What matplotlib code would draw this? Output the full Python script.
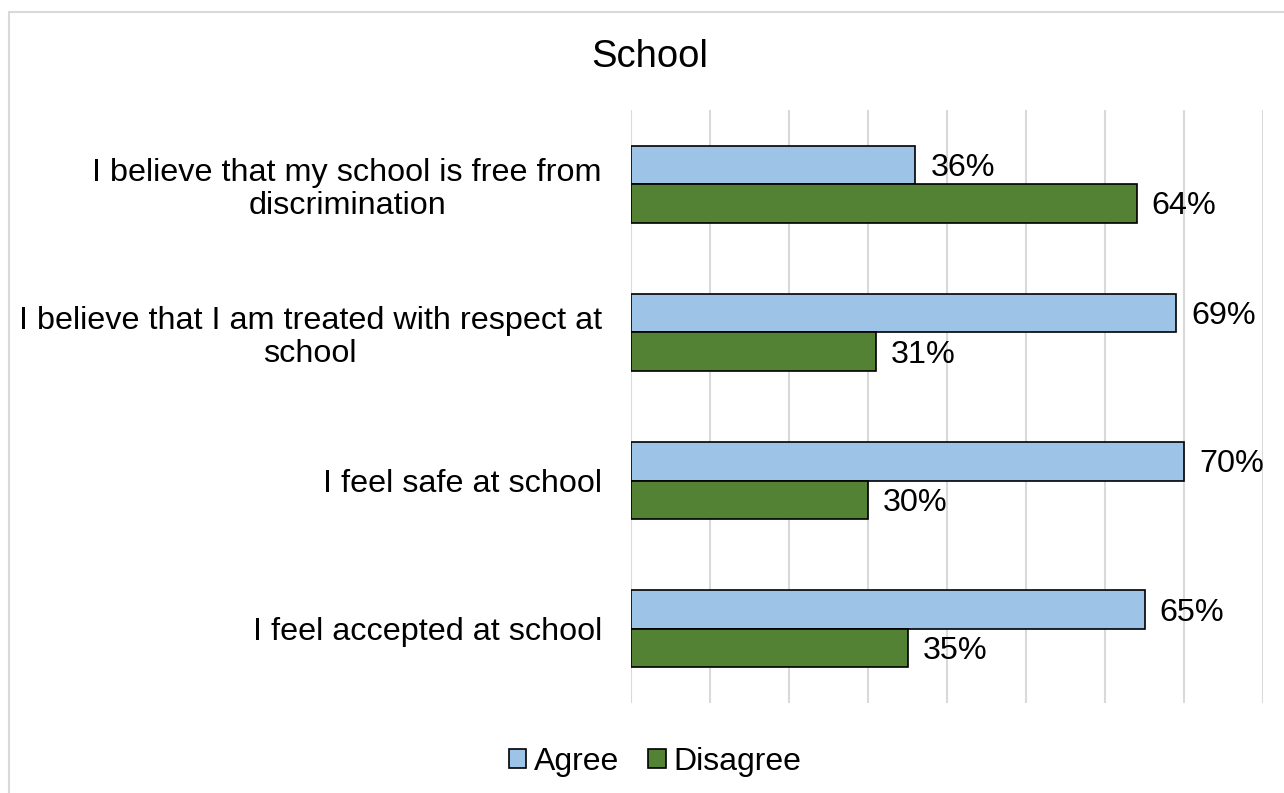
import matplotlib
matplotlib.use("Agg")
import matplotlib.pyplot as plt
from matplotlib.patches import Rectangle, Patch
import numpy as np

plt.rcParams['font.family'] = ['Liberation Sans', 'DejaVu Sans']

categories = [
    "I believe that my school is free from\ndiscrimination",
    "I believe that I am treated with respect at\nschool",
    "I feel safe at school",
    "I feel accepted at school",
]
agree = [36, 69, 70, 65]
disagree = [64, 31, 30, 35]
series_names = ["Agree", "Disagree"]
colors = ["#9DC3E6", "#548235"]

W, H = 1284, 793
fig = plt.figure(figsize=(W / 100, H / 100), dpi=100)
fig.patch.set_facecolor("white")

# outer chart-area frame
fig.add_artist(Rectangle((8.5 / W, -0.05), 1.2, 1 - 11.5 / H + 0.05,
                         transform=fig.transFigure, fill=False,
                         edgecolor="#D9D9D9", linewidth=1.5))

ax = fig.add_axes([631 / W, (H - 703) / H, (1263 - 631) / W, (703 - 110) / H])

y = np.arange(len(categories))
bh = 0.26
ax.barh(y - bh / 2, agree, height=bh, color=colors[0], edgecolor="black",
        linewidth=1.2, zorder=3)
ax.barh(y + bh / 2, disagree, height=bh, color=colors[1], edgecolor="black",
        linewidth=1.2, zorder=3)

for yi, a, d in zip(y, agree, disagree):
    ax.text(a + 1.9, yi - bh / 2 + 0.02, f"{a}%", va="center", ha="left", fontsize=23.3)
    ax.text(d + 1.9, yi + bh / 2 + 0.02, f"{d}%", va="center", ha="left", fontsize=23.3)

ax.set_xlim(0, 80)
ax.set_ylim(len(categories) - 0.5, -0.5)
ax.set_xticks(np.arange(0, 81, 10))
ax.xaxis.grid(True, color="#D9D9D9", linewidth=1.5, zorder=0)
ax.tick_params(axis="x", length=0, labelbottom=False)
ax.tick_params(axis="y", length=0, pad=21)
ax.set_yticks(y)
ax.set_yticklabels(categories, fontsize=23.3, ha="right", multialignment="center",
                   linespacing=1.13)
for s in ax.spines.values():
    s.set_visible(False)

fig.text(650 / W, 1 - 57 / H, "School", ha="center", va="center", fontsize=27.5)

handles = [Patch(facecolor=c, edgecolor="black", linewidth=1.2) for c in colors]
fig.legend(handles, series_names, loc="center", bbox_to_anchor=(655 / W, 1 - 762 / H),
           ncol=2, frameon=False, fontsize=23, handlelength=0.55, handleheight=0.55,
           handletextpad=0.25, columnspacing=0.9)

fig.savefig("out.png", dpi=100, facecolor="white")
